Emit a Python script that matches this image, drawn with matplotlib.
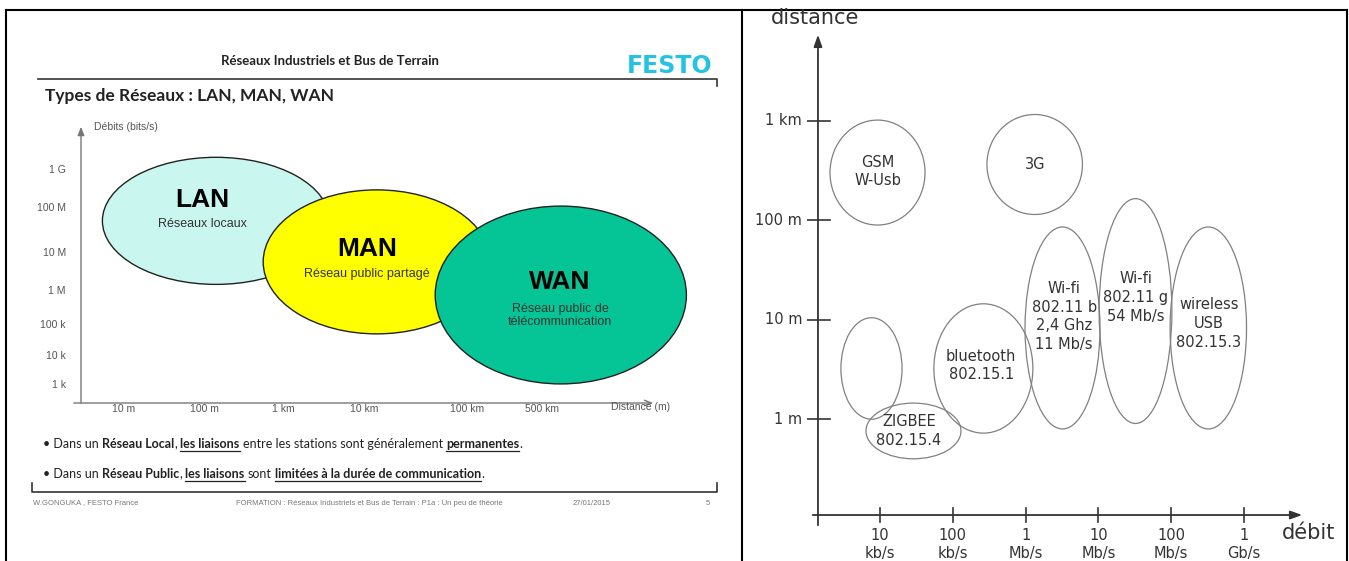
import numpy as np
import matplotlib.pyplot as plt
from matplotlib.patches import Ellipse

W, H = 1349, 561

# ---- left slide : LAN / MAN / WAN ----
dist_ticks = ['10 m', '100 m', '1 km', '10 km', '100 km', '500 km']
dist_tick_pos = [1.0, 2.0, 2.99, 4.0, 5.29, 6.22]
rate_ticks = ['1 G', '100 M', '10 M', '1 M', '100 k', '10 k', '1 k']
rate_tick_pos = [8.97, 7.92, 6.67, 5.61, 4.67, 3.81, 3.0]

net_names = ['LAN', 'MAN', 'WAN']
net_desc = ['Réseaux locaux', 'Réseau public partagé', 'Réseau public de\ntélécommunication']
net_x = [2.15, 4.16, 6.46]
net_y = [7.56, 6.42, 5.50]
net_w = [2.84, 2.84, 3.14]
net_h = [3.53, 4.00, 4.94]
net_colors = ['#c9f7ef', '#ffff00', '#05c596']
net_label_x = [1.975, 4.04, 6.45]
net_name_y = [8.14, 6.78, 5.86]
net_desc_y = [7.47, 6.08, 4.93]

bullet_1 = [('• Dans un ', False, False), ('Réseau Local', True, False), (', ', False, False),
            ('les liaisons', True, True), (' entre les stations sont généralement ', False, False),
            ('permanentes', True, True), ('.', False, False)]
bullet_2 = [('• Dans un ', False, False), ('Réseau Public', True, False), (', ', False, False),
            ('les liaisons', True, True), (' sont ', False, False),
            ('limitées à la durée de communication', True, True), ('.', False, False)]

# ---- right chart : distance vs debit ----
debit_ticks = ['10\nkb/s', '100\nkb/s', '1\nMb/s', '10\nMb/s', '100\nMb/s', '1\nGb/s']
debit_log = [4, 5, 6, 7, 8, 9]
range_ticks = ['1 m', '10 m', '100 m', '1 km']
range_log = [0, 1, 2, 3]

tech_labels = ['GSM\nW-Usb', '3G', '', 'ZIGBEE\n802.15.4', 'bluetooth\n802.15.1',
               'Wi-fi\n802.11 b\n2,4 Ghz\n11 Mb/s', 'Wi-fi\n802.11 g\n54 Mb/s',
               'wireless\nUSB\n802.15.3']
tech_x = [3.966, 6.125, 3.883, 4.46, 5.42, 6.507, 7.51, 8.51]
tech_y = [2.477, 2.558, 0.508, -0.12, 0.508, 0.915, 1.085, 0.915]
tech_w = [1.305, 1.312, 0.84, 1.305, 1.36, 1.03, 1.0, 1.05]
tech_h = [1.055, 1.005, 1.02, 0.56, 1.30, 2.03, 2.26, 2.03]
tech_text_x = [3.97, 6.13, 3.883, 4.40, 5.39, 6.53, 7.516, 8.52]
tech_text_y = [2.487, 2.56, 0.508, -0.12, 0.538, 1.03, 1.221, 0.96]

fig = plt.figure(figsize=(W / 100, H / 100), dpi=100)

# background in pixel units: frames, header, footer
bg = fig.add_axes([0, 0, 1, 1])
bg.set_xlim(0, W)
bg.set_ylim(H, 0)
bg.axis('off')
for xs, ys in [([5.5, 1347], [10, 10]), ([5.5, 5.5], [10, H]),
               ([742, 742], [10, H]), ([1347, 1347], [10, H])]:
    bg.plot(xs, ys, color='black', lw=1.5, solid_capstyle='projecting')

bg.plot([38, 717, 717], [79, 79, 86], color='#333333', lw=1.2)
bg.plot([32, 32, 717, 717], [483, 492, 492, 483], color='#333333', lw=1.2)

bg.text(330, 61, 'Réseaux Industriels et Bus de Terrain', family='Lato', fontweight='bold',
        fontsize=9.5, ha='center', va='center', color='#222222')
bg.text(670, 66, 'FESTO', family='DejaVu Sans', fontweight='bold', fontsize=17,
        ha='center', va='center', color='#25c3e3')
bg.text(45, 96, 'Types de Réseaux : LAN, MAN, WAN', family='Lato', fontweight='bold',
        fontsize=12.5, ha='left', va='center', color='#222222')

foot = dict(family='Liberation Sans', fontsize=5.5, color='#777777', va='center')
bg.text(33, 503, 'W.GONGUKA , FESTO France', ha='left', **foot)
bg.text(369, 503, 'FORMATION : Réseaux Industriels et Bus de Terrain : P1a : Un peu de théorie',
        ha='center', **foot)
bg.text(592, 503, '27/01/2015', ha='center', **foot)
bg.text(708, 503, '5', ha='center', **foot)

renderer = fig.canvas.get_renderer()


def text_width(s, bold, size):
    t = bg.text(0, 0, s, family='Lato', fontsize=size, fontweight='bold' if bold else 'normal')
    w = t.get_window_extent(renderer=renderer).width
    t.remove()
    return w


def rich_line(x, y, parts, size=9):
    for txt, bold, under in parts:
        sp = text_width('x x', bold, size) - text_width('xx', bold, size)
        lead = len(txt) - len(txt.lstrip(' '))
        trail = len(txt) - len(txt.rstrip(' '))
        x += lead * sp
        core = txt.strip(' ')
        t = bg.text(x, y, core, family='Lato', fontsize=size,
                    fontweight='bold' if bold else 'normal', va='baseline', color='#222222')
        w = t.get_window_extent(renderer=renderer).width
        if under:
            bg.plot([x, x + w], [y + 2.5, y + 2.5], color='#222222', lw=0.9)
        x += w + trail * sp


rich_line(43, 448, bullet_1)
rich_line(43, 478, bullet_2)

# ---- left chart ----
axl = fig.add_axes([68 / W, (H - 410.2) / H, 592 / W, 288 / H])
axl.set_xlim(0.3, 7.7)
axl.set_ylim(2.3, 10.3)
axl.axis('off')
for i in range(3):
    axl.add_patch(Ellipse((net_x[i], net_y[i]), net_w[i], net_h[i], facecolor=net_colors[i],
                          edgecolor='#222222', lw=1.0, zorder=2 + i, clip_on=False))
    axl.text(net_label_x[i], net_name_y[i], net_names[i], family='Liberation Sans',
             fontweight='bold', fontsize=19, ha='center', va='center', color='black', zorder=6)
    axl.text(net_label_x[i], net_desc_y[i], net_desc[i], family='Liberation Sans',
             fontsize=9, ha='center', va='center', color='#333333', linespacing=1.2, zorder=6)

axl.annotate('', xy=(0.4625, 10.25), xytext=(0.4625, 2.42),
             arrowprops=dict(arrowstyle='-|>,head_width=0.2,head_length=0.5', color='#777777', lw=1.0))
axl.annotate('', xy=(7.65, 2.5), xytext=(0.3375, 2.5),
             arrowprops=dict(arrowstyle='->,head_width=0.2,head_length=0.5', color='#777777', lw=1.0))
lab = dict(family='Liberation Sans', fontsize=7.5, color='#555555', clip_on=False)
for s, p in zip(rate_ticks, rate_tick_pos):
    axl.text(0.275, p, s, ha='right', va='center', **lab)
for s, p in zip(dist_ticks, dist_tick_pos):
    axl.text(p, 2.333, s, ha='center', va='center', **lab)
axl.text(7.46, 2.39, 'Distance (m)', ha='center', va='center', **lab)
axl.text(0.625, 10.17, 'Débits (bits/s)', ha='left', va='center', **lab)

# ---- right chart ----
axr = fig.add_axes([807.2 / W, (H - 528.45) / H, 502.3 / W, 502.45 / H])
axr.set_xlim(3.0, 9.9)
axr.set_ylim(-1.1, 3.95)
axr.axis('off')
ink = '#333333'
axr.annotate('', xy=(3.148, 3.89), xytext=(3.148, -1.095),
             arrowprops=dict(arrowstyle='-|>,head_width=0.25,head_length=0.7', color=ink, lw=1.3))
axr.annotate('', xy=(9.838, -0.965), xytext=(3.038, -0.965),
             arrowprops=dict(arrowstyle='-|>,head_width=0.25,head_length=0.7', color=ink, lw=1.3))
for v, s in zip(range_log, range_ticks):
    axr.plot([3.0, 3.31], [v, v], color=ink, lw=1.2)
    axr.text(2.93, v, s, ha='right', va='center', fontsize=10.5, color=ink, clip_on=False)
for v, s in zip(debit_log, debit_ticks):
    axr.plot([v, v], [-0.894, -1.035], color=ink, lw=1.2)
    axr.text(v, -1.261, s, ha='center', va='center', fontsize=10.5, color=ink,
             linespacing=1.3, clip_on=False)
axr.text(2.503, 4.03, 'distance', ha='left', va='center', fontsize=15, color=ink, clip_on=False)
axr.text(9.52, -1.146, 'débit', ha='left', va='center', fontsize=15, color=ink, clip_on=False)

for i in range(len(tech_x)):
    axr.add_patch(Ellipse((tech_x[i], tech_y[i]), tech_w[i], tech_h[i], facecolor='none',
                          edgecolor='#808080', lw=0.9))
    if tech_labels[i]:
        axr.text(tech_text_x[i], tech_text_y[i], tech_labels[i], ha='center', va='center',
                 fontsize=10.5, color=ink, linespacing=1.3)

fig.savefig('out.png', dpi=100)
